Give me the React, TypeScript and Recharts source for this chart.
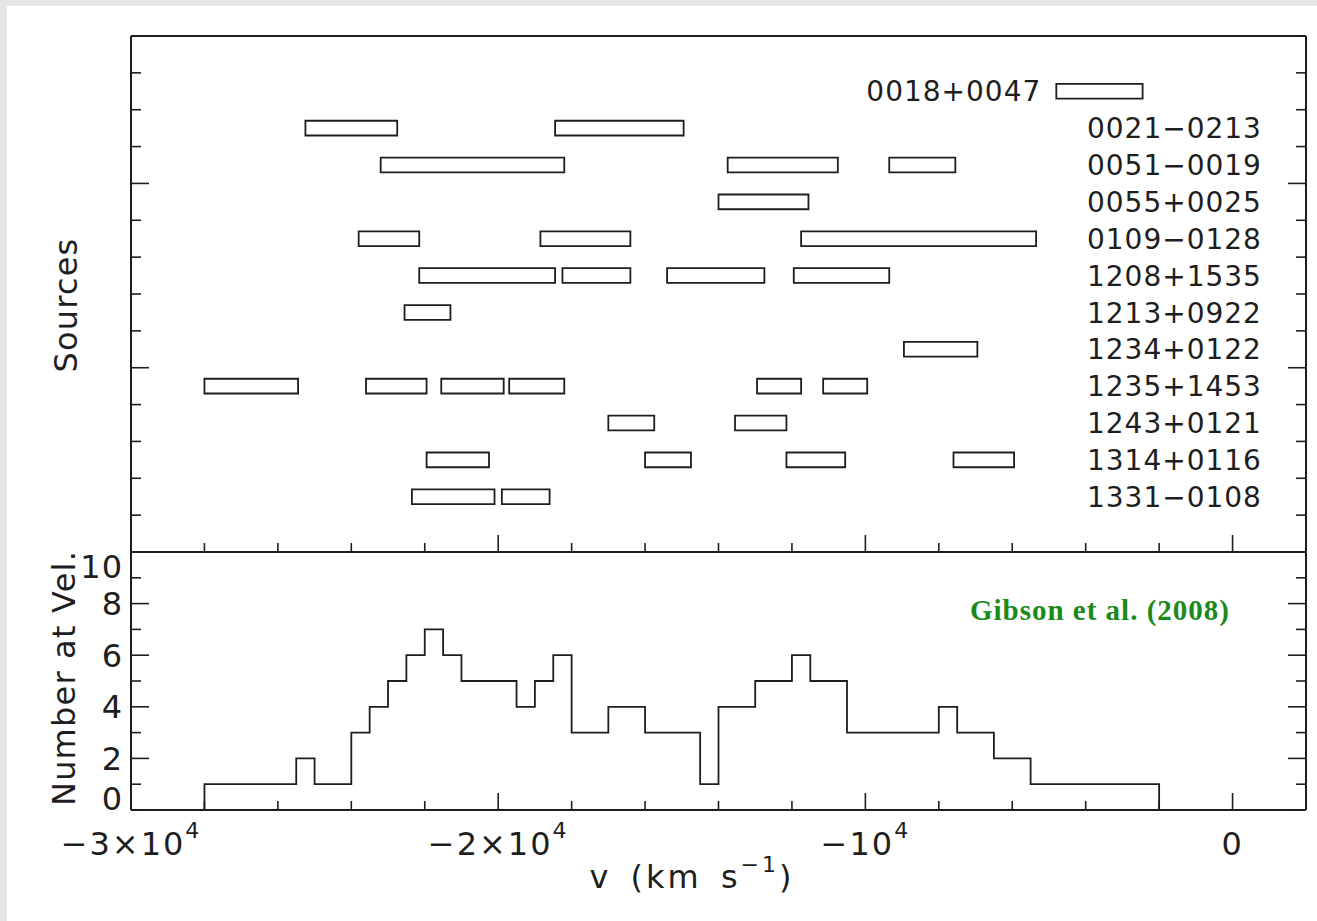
import React from 'react';
import {
  ComposedChart,
  LineChart,
  Line,
  XAxis,
  YAxis,
  ReferenceArea,
  Scatter,
} from 'recharts';

// ---------- data ----------
const sources = [
  '0018+0047',
  '0021−0213',
  '0051−0019',
  '0055+0025',
  '0109−0128',
  '1208+1535',
  '1213+0922',
  '1234+0122',
  '1235+1453',
  '1243+0121',
  '1314+0116',
  '1331−0108',
];

// absorption velocity ranges (km/s) per source, [start, end]
const ranges0018: number[][] = [[-4800, -2450]];
const ranges0021: number[][] = [[-25250, -22750], [-18450, -14950]];
const ranges0051: number[][] = [[-23200, -18200], [-13750, -10750], [-9350, -7550]];
const ranges0055: number[][] = [[-14000, -11550]];
const ranges0109: number[][] = [[-23800, -22150], [-18850, -16400], [-11750, -5350]];
const ranges1208: number[][] = [[-22150, -18450], [-18250, -16400], [-15400, -12750], [-11950, -9350]];
const ranges1213: number[][] = [[-22550, -21300]];
const ranges1234: number[][] = [[-8950, -6950]];
const ranges1235: number[][] = [[-28000, -25450], [-23600, -21950], [-21550, -19850], [-19700, -18200], [-12950, -11750], [-11150, -9950]];
const ranges1243: number[][] = [[-17000, -15750], [-13550, -12150]];
const ranges1314: number[][] = [[-21950, -20250], [-16000, -14750], [-12150, -10550], [-7600, -5950]];
const ranges1331: number[][] = [[-22350, -20100], [-19900, -18600]];

const sourceRanges = [
  ranges0018, ranges0021, ranges0051, ranges0055, ranges0109, ranges1208,
  ranges1213, ranges1234, ranges1235, ranges1243, ranges1314, ranges1331,
];

// histogram: count from each velocity up to the next
const histVelocity = [
  -28000, -25500, -25000, -24000, -23500, -23000, -22500, -22000, -21500, -21000,
  -19500, -19000, -18500, -18000, -17000, -16000, -14500, -14000, -13000, -12000,
  -11500, -10500, -8000, -7500, -6500, -5500, -2000,
];
const histCount = [
  1, 2, 1, 3, 4, 5, 6, 7, 6, 5,
  4, 5, 6, 3, 4, 3, 1, 4, 5, 6,
  5, 3, 4, 3, 2, 1, 0,
];

const xTicks = [
  -30000, -28000, -26000, -24000, -22000, -20000, -18000, -16000, -14000, -12000,
  -10000, -8000, -6000, -4000, -2000, 0, 2000,
];
const xDomain = [-30000, 2000];
const sourceYTicks = [0, 1, 2, 3, 4, 5, 6, 7, 8, 9, 10, 11, 12, 13, 14];
const countYTicks = [0, 1, 2, 3, 4, 5, 6, 7, 8, 9, 10];

const noteText = 'Gibson et al. (2008)';

// ---------- style / layout ----------
const INK = '#1e1e1e';
const FONT = '"DejaVu Sans", "Liberation Sans", sans-serif';
const AXIS_W = 2;
const ROW_TOP = 12.5;
const BOX_HALF = 0.2;
const LABEL_RIGHT_V = 800; // where right-hand labels end
const LABEL_LEFT_EDGE_V = -4200; // left edge of the right-hand label column

const axisLineStyle = { stroke: INK, strokeWidth: AXIS_W };

// ---------- derived ----------
const boxes = sourceRanges.flatMap((rs, i) =>
  rs.map((r) => ({ row: ROW_TOP - i, start: r[0], end: r[1] }))
);
const labelPoints = sources.map((name, i) => {
  const rs = sourceRanges[i];
  const maxEnd = Math.max(...rs.map((r) => r[1]));
  const collide = maxEnd > LABEL_LEFT_EDGE_V;
  return {
    v: collide ? Math.min(...rs.map((r) => r[0])) : LABEL_RIGHT_V,
    y: ROW_TOP - i,
    name,
    gap: collide ? 15 : 0,
  };
});
const histData = [
  { v: histVelocity[0], n: 0 },
  ...histVelocity.map((v, i) => ({ v, n: histCount[i] })),
];

function tickText(v: number) {
  if (v === 0) return { base: '0', sup: '' };
  const m = Math.abs(v / 10000);
  return { base: m === 1 ? '−10' : `−${m}×10`, sup: '4' };
}

const makeXTick = (dir: number, withLabel: boolean) => (props: any) => {
  const { x, y, payload } = props;
  const v = payload.value;
  const major = v % 10000 === 0;
  const len = major ? 17 : 9;
  const t = tickText(v);
  return (
    <g>
      <line x1={x} x2={x} y1={y} y2={y + dir * len} stroke={INK} strokeWidth={1.6} />
      {withLabel && major && (
        <text
          x={x}
          y={y + 45}
          textAnchor="middle"
          fontFamily={FONT}
          fontSize={32}
          letterSpacing={2}
          fill={INK}
        >
          {t.base}
          {t.sup && (
            <tspan dy={-17} fontSize={22}>
              {t.sup}
            </tspan>
          )}
        </text>
      )}
    </g>
  );
};

const makeYTick = (dir: number, majorEvery: number, labelBounds: number[] | null) => (props: any) => {
  const { x, y, payload } = props;
  const v = payload.value;
  const major = v % majorEvery === 0;
  const len = major ? 18 : 10;
  let ly = y;
  if (labelBounds) ly = Math.min(Math.max(y, labelBounds[0]), labelBounds[1]);
  return (
    <g>
      <line x1={x} x2={x + dir * len} y1={y} y2={y} stroke={INK} strokeWidth={1.6} />
      {labelBounds && major && (
        <text
          x={x - 8}
          y={ly}
          dy="0.36em"
          textAnchor="end"
          fontFamily={FONT}
          fontSize={32}
          letterSpacing={1}
          fill={INK}
        >
          {v}
        </text>
      )}
    </g>
  );
};

const SourceLabel = (props: any) => {
  const { cx, cy, payload } = props;
  return (
    <text
      x={cx - payload.gap}
      y={cy}
      dy="0.36em"
      textAnchor="end"
      fontFamily={FONT}
      fontSize={28}
      letterSpacing={1}
      fill={INK}
    >
      {payload.name}
    </text>
  );
};

export default function App() {
  return (
    <div style={{ position: 'absolute', left: 0, top: 0, width: 1317, height: 921, background: '#e6e6e6', overflow: 'hidden' }}>
      <div style={{ position: 'absolute', left: 7, top: 6, width: 1310, height: 915, background: '#ffffff' }} />
      {/* top panel: sources */}
      <div style={{ position: 'absolute', left: 0, top: 0 }}>
        <ComposedChart width={1317} height={600} margin={{ top: 0, right: 0, bottom: 0, left: 0 }}>
          <XAxis
            xAxisId={0}
            dataKey="v"
            type="number"
            domain={xDomain}
            allowDataOverflow
            ticks={xTicks}
            interval={0}
            height={48}
            tickSize={0}
            tickMargin={0}
            tickLine={false}
            axisLine={axisLineStyle}
            tick={makeXTick(-1, false)}
          />
          <XAxis
            xAxisId="top"
            orientation="top"
            type="number"
            domain={xDomain}
            allowDataOverflow
            ticks={xTicks}
            interval={0}
            height={36}
            tickSize={0}
            tickMargin={0}
            tickLine={false}
            axisLine={axisLineStyle}
            tick={makeXTick(1, false)}
          />
          <YAxis
            yAxisId={0}
            type="number"
            domain={[0, 14]}
            allowDataOverflow
            ticks={sourceYTicks}
            interval={0}
            width={131}
            tickSize={0}
            tickMargin={0}
            tickLine={false}
            axisLine={axisLineStyle}
            tick={makeYTick(1, 5, null)}
          />
          <YAxis
            yAxisId="r"
            orientation="right"
            type="number"
            domain={[0, 14]}
            allowDataOverflow
            ticks={sourceYTicks}
            interval={0}
            width={11}
            tickSize={0}
            tickMargin={0}
            tickLine={false}
            axisLine={axisLineStyle}
            tick={makeYTick(-1, 5, null)}
          />
          {boxes.map((b, i) => (
            <ReferenceArea
              key={i}
              xAxisId={0}
              yAxisId={0}
              x1={b.start}
              x2={b.end}
              y1={b.row - BOX_HALF}
              y2={b.row + BOX_HALF}
              fill="#ffffff"
              fillOpacity={1}
              stroke={INK}
              strokeWidth={1.8}
              ifOverflow="visible"
            />
          ))}
          <Scatter
            xAxisId={0}
            yAxisId={0}
            data={labelPoints}
            dataKey="y"
            shape={SourceLabel}
            isAnimationActive={false}
          />
        </ComposedChart>
      </div>
      {/* bottom panel: histogram */}
      <div style={{ position: 'absolute', left: 0, top: 500 }}>
        <LineChart width={1317} height={421} data={histData} margin={{ top: 0, right: 0, bottom: 0, left: 0 }}>
          <XAxis
            xAxisId={0}
            dataKey="v"
            type="number"
            domain={xDomain}
            allowDataOverflow
            ticks={xTicks}
            interval={0}
            height={111}
            tickSize={0}
            tickMargin={0}
            tickLine={false}
            axisLine={axisLineStyle}
            tick={makeXTick(-1, true)}
          />
          <XAxis
            xAxisId="top"
            orientation="top"
            type="number"
            domain={xDomain}
            allowDataOverflow
            ticks={xTicks}
            interval={0}
            height={52}
            tickSize={0}
            tickMargin={0}
            tickLine={false}
            axisLine={axisLineStyle}
            tick={makeXTick(1, false)}
          />
          <YAxis
            yAxisId={0}
            type="number"
            domain={[0, 10]}
            allowDataOverflow
            ticks={countYTicks}
            interval={0}
            width={131}
            tickSize={0}
            tickMargin={0}
            tickLine={false}
            axisLine={axisLineStyle}
            tick={makeYTick(1, 2, [66.5, 298])}
          />
          <YAxis
            yAxisId="r"
            orientation="right"
            type="number"
            domain={[0, 10]}
            allowDataOverflow
            ticks={countYTicks}
            interval={0}
            width={11}
            tickSize={0}
            tickMargin={0}
            tickLine={false}
            axisLine={axisLineStyle}
            tick={makeYTick(-1, 2, null)}
          />
          <Line
            xAxisId={0}
            yAxisId={0}
            type="stepAfter"
            dataKey="n"
            stroke={INK}
            strokeWidth={1.8}
            dot={false}
            activeDot={false}
            isAnimationActive={false}
          />
        </LineChart>
      </div>
      {/* titles and note */}
      <svg
        width={1317}
        height={921}
        style={{ position: 'absolute', left: 0, top: 0, pointerEvents: 'none' }}
      >
        <text
          transform="translate(77,305) rotate(-90)"
          textAnchor="middle"
          fontFamily={FONT}
          fontSize={32}
          letterSpacing={1.2}
          fill={INK}
        >
          Sources
        </text>
        <text
          transform="translate(75,678) rotate(-90)"
          textAnchor="middle"
          fontFamily={FONT}
          fontSize={32}
          letterSpacing={1.2}
          fill={INK}
        >
          Number at Vel.
        </text>
        <text
          x={692}
          y={888}
          textAnchor="middle"
          fontFamily={FONT}
          fontSize={32}
          letterSpacing={3}
          wordSpacing={6}
          fill={INK}
        >
          v (km s
          <tspan dy={-16} fontSize={22}>
            −1
          </tspan>
          <tspan dy={16}>)</tspan>
        </text>
        <text
          x={1230}
          y={620}
          textAnchor="end"
          fontFamily='"Liberation Serif", serif'
          fontWeight="bold"
          fontSize={29}
          letterSpacing={1}
          fill="#1b8a1b"
        >
          {noteText}
        </text>
      </svg>
    </div>
  );
}
